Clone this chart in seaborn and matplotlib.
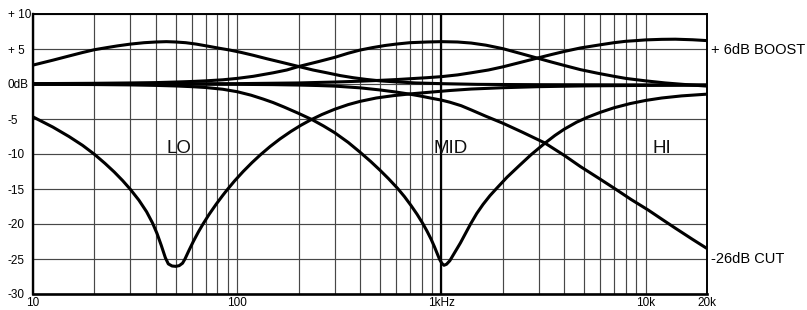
import numpy as np
import pandas as pd
import matplotlib
matplotlib.use("Agg")
import matplotlib.pyplot as plt
import seaborn as sns

# ---- data (frequency in Hz, level in dB) ----
lo_boost_f = [10, 12.5, 15, 17.5, 20, 23, 26, 30, 35, 40, 45, 50, 56, 63, 72, 82, 92, 105, 120, 140, 165,
              200, 235, 275, 320, 370, 430, 500, 600, 750, 1000, 1500, 3000, 20000]
lo_boost_db = [2.7, 3.4, 4.0, 4.5, 4.9, 5.2, 5.45, 5.7, 5.9, 6.0, 6.05, 6.0, 5.9, 5.7, 5.4, 5.1, 4.85, 4.5, 4.1, 3.6, 3.1,
               2.5, 2.0, 1.6, 1.2, 0.9, 0.65, 0.45, 0.3, 0.15, 0.05, -0.05, -0.1, -0.15]

lo_cut_f = [10, 12.5, 15, 17.5, 20, 22.5, 25, 27.5, 30, 33, 36, 38.5, 40.5, 42.5, 44.5, 46, 48, 50, 52, 54, 55.5,
            58, 61, 64.5, 68, 73, 79, 85, 89, 97, 107, 118, 130, 145, 162, 183, 205, 228, 260, 300, 350, 400, 480,
            580, 700, 880, 1100, 1400, 2000, 3000, 5000, 10000, 20000]
lo_cut_db = [-4.7, -6.15, -7.5, -8.77, -10.05, -11.33, -12.57, -13.81, -15.06, -16.59, -18.25, -19.86, -21.36,
             -23.07, -24.83, -25.7, -26.0, -26.05, -25.95, -25.6, -25.0, -23.8, -22.49, -21.16, -20.01, -18.59,
             -17.15, -15.91, -15.17, -13.86, -12.5, -11.25, -10.11, -8.93, -7.85, -6.79, -5.9, -5.16, -4.36, -3.61,
             -2.94, -2.48, -2.0, -1.67, -1.42, -1.17, -0.93, -0.72, -0.53, -0.38, -0.27, -0.2, -0.15]

mid_boost_f = [10, 20, 30, 40, 50, 60, 70, 85, 100, 120, 150, 175, 200, 250, 300, 350, 400, 460, 530, 600, 700, 850,
               1000, 1200, 1400, 1650, 2000, 2450, 2950, 3450, 4000, 4800, 5800, 7000, 8000, 10000, 12500, 16000, 20000]
mid_boost_db = [0.05, 0.1, 0.15, 0.2, 0.28, 0.36, 0.45, 0.6, 0.8, 1.1, 1.6, 2.0, 2.5, 3.2, 3.8, 4.4, 4.85, 5.2, 5.5,
                5.7, 5.9, 6.0, 6.05, 6.0, 5.85, 5.55, 5.05, 4.35, 3.7, 3.15, 2.65, 2.05, 1.55, 1.1, 0.8, 0.45, 0.15,
                -0.1, -0.3]

mid_cut_f = [10, 20, 30, 40, 50, 60, 70, 85, 100, 117, 134, 150, 170, 200, 233, 265, 300, 350, 400, 450, 500, 550,
             610, 660, 710, 760, 810, 850, 890, 925, 955, 980, 1005, 1030, 1060, 1100, 1150, 1200, 1240, 1310, 1390,
             1490, 1600, 1730, 1880, 2100, 2400, 2750, 3200, 3600, 4000, 4600, 5200, 6000, 7000, 8400, 10000,
             12000, 15000, 20000]
mid_cut_db = [-0.04, -0.08, -0.13, -0.2, -0.28, -0.38, -0.5, -0.75, -1.1, -1.6, -2.15, -2.65, -3.3, -4.2, -5.1,
              -6.0, -6.95, -8.35, -9.75, -11.05, -12.3, -13.5, -14.9, -16.1, -17.35, -18.6, -19.9, -21.0, -22.15,
              -23.25, -24.25, -25.05, -25.6, -25.9, -25.75, -25.25, -24.3, -23.4, -22.7, -21.4, -20.0, -18.5, -17.2,
              -15.95, -14.8, -13.3, -11.7, -10.1, -8.5, -7.35, -6.45, -5.45, -4.75, -4.05, -3.4, -2.8, -2.35, -2.0,
              -1.7, -1.45]

hi_boost_f = [10, 30, 100, 200, 300, 400, 500, 600, 700, 850, 1000, 1200, 1400, 1700, 2000, 2450, 2950, 3450, 4000,
              4800, 6000, 7000, 8000, 9000, 10000, 12000, 14000, 17000, 20000]
hi_boost_db = [0.0, 0.01, 0.05, 0.15, 0.28, 0.4, 0.52, 0.63, 0.75, 0.9, 1.05, 1.3, 1.6, 2.0, 2.45, 3.1, 3.7, 4.2,
               4.65, 5.15, 5.6, 5.9, 6.1, 6.2, 6.3, 6.38, 6.4, 6.32, 6.2]

hi_cut_f = [10, 50, 100, 150, 200, 250, 300, 400, 500, 600, 700, 800, 900, 1000, 1100, 1250, 1400, 1650, 2000, 2500,
            3200, 4000, 4800, 6000, 7200, 8500, 10300, 12000, 14000, 17000, 20000]
hi_cut_db = [0.0, -0.02, -0.05, -0.09, -0.15, -0.22, -0.3, -0.55, -0.85, -1.15, -1.45, -1.75, -2.05, -2.3, -2.6,
             -3.1, -3.7, -4.6, -5.6, -6.9, -8.4, -10.2, -11.8, -13.6, -15.1, -16.5, -18.0, -19.3, -20.6, -22.2,
             -23.5]

x_ticks = [10, 100, 1000, 10000, 20000]
x_tick_labels = ["10", "100", "1kHz", "10k", "20k"]
x_minor = [20, 30, 40, 50, 60, 70, 80, 90,
           200, 300, 400, 500, 600, 700, 800, 900,
           2000, 3000, 4000, 5000, 6000, 7000, 8000, 9000]
y_ticks = [10, 5, 0, -5, -10, -15, -20, -25, -30]
y_tick_labels = ["+ 10", "+ 5", "0dB", "-5", "-10", "-15", "-20", "-25", "-30"]

band_labels = ["LO", "MID", "HI"]
band_label_f = [52, 1107, 11970]
band_label_db = -9.8

right_labels = ["+ 6dB BOOST", "-26dB CUT"]
right_label_db = [4.3, -25.6]

curves = {
    "lo_boost": (lo_boost_f, lo_boost_db),
    "lo_cut": (lo_cut_f, lo_cut_db),
    "mid_boost": (mid_boost_f, mid_boost_db),
    "mid_cut": (mid_cut_f, mid_cut_db),
    "hi_boost": (hi_boost_f, hi_boost_db),
    "hi_cut": (hi_cut_f, hi_cut_db),
}
df = pd.concat(
    [pd.DataFrame({"freq": f, "db": d, "curve": name}) for name, (f, d) in curves.items()],
    ignore_index=True,
)

# ---- style ----
sns.set_style("white")
plt.rcParams["font.family"] = ["Liberation Sans", "DejaVu Sans"]

fig = plt.figure(figsize=(8.07, 3.10), dpi=100)
ax = fig.add_axes([33 / 807, 16 / 310, 674 / 807, 280 / 310])

ax.set_xscale("log")
ax.set_xlim(10, 20000)
ax.set_ylim(-30, 10)

sns.lineplot(data=df, x="freq", y="db", units="curve", estimator=None,
             color="black", linewidth=2.2, sort=False, ax=ax, zorder=3,
             legend=False)
for line in ax.get_lines():
    line.set_solid_joinstyle("round")
    line.set_solid_capstyle("round")

ax.set_xticks(x_ticks)
ax.set_xticklabels(x_tick_labels)
ax.set_xticks(x_minor, minor=True)
ax.set_xticklabels([], minor=True)
ax.set_yticks(y_ticks)
ax.set_yticklabels(y_tick_labels)

ax.tick_params(axis="both", which="both", length=0, labelsize=8.5, colors="black")
ax.tick_params(axis="x", pad=2.5)
ax.tick_params(axis="y", pad=18)
for lbl in ax.get_yticklabels():
    lbl.set_horizontalalignment("left")

ax.grid(True, which="both", axis="x", color="#474747", linewidth=0.85, zorder=1)
ax.grid(True, which="major", axis="y", color="#474747", linewidth=0.85, zorder=1)
ax.axvline(1000, color="black", linewidth=1.6, zorder=2)
ax.set_axisbelow(True)

ax.set_xlabel("")
ax.set_ylabel("")

for side, lw in [("left", 1.7), ("bottom", 1.9), ("top", 1.4), ("right", 1.4)]:
    ax.spines[side].set_visible(True)
    ax.spines[side].set_color("black")
    ax.spines[side].set_linewidth(lw)

for txt, f in zip(band_labels, band_label_f):
    ax.text(f, band_label_db, txt, ha="center", va="baseline", fontsize=13.5,
            color="#111111", zorder=4)

for txt, y in zip(right_labels, right_label_db):
    ax.annotate(txt, xy=(1.006, y), xycoords=("axes fraction", "data"),
                ha="left", va="baseline", fontsize=10.5, color="black",
                annotation_clip=False)

fig.savefig("out.png", dpi=100)
